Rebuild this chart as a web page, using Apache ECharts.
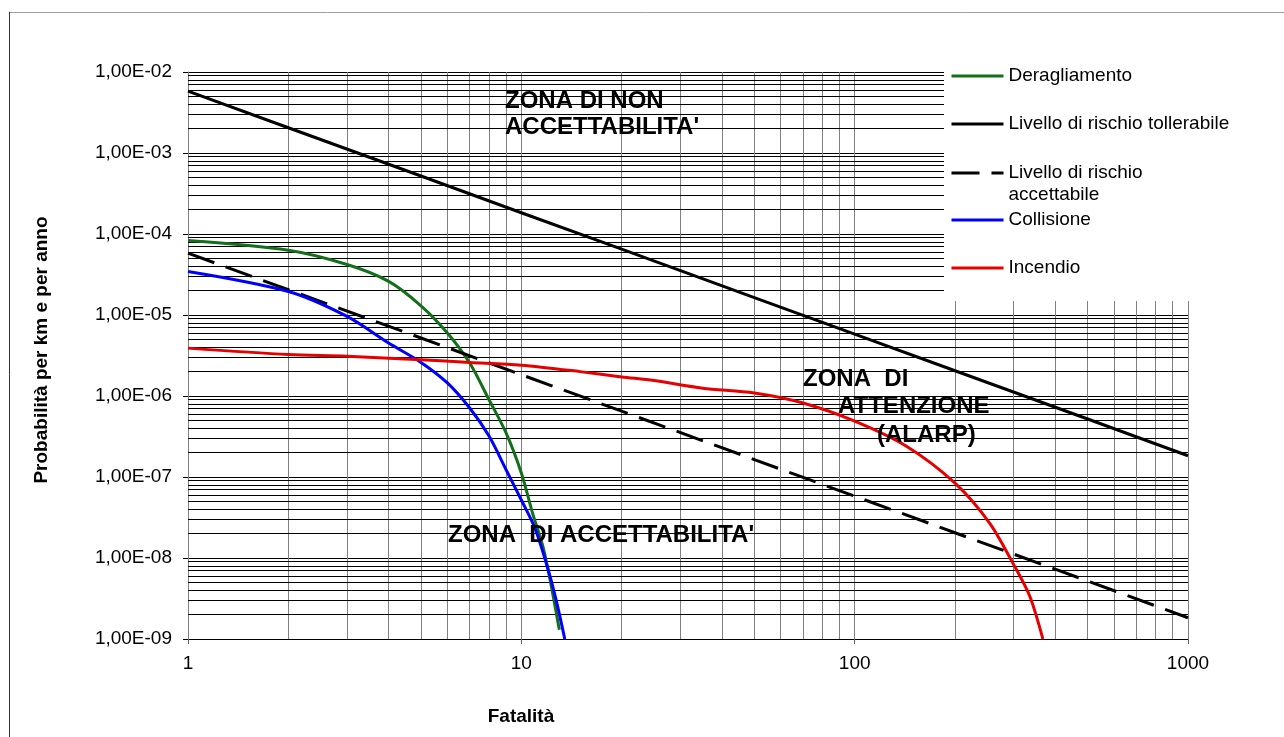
<!DOCTYPE html>
<html>
<head>
<meta charset="utf-8">
<title>Curve F-N</title>
<script src="https://cdn.jsdelivr.net/npm/echarts@6/dist/echarts.min.js"></script>
<style>
  html, body { margin: 0; padding: 0; background: #ffffff; }
  #chart { width: 1284px; height: 737px; }
</style>
</head>
<body>
<div id="chart"></div>
<script>
const FONT = '"Liberation Sans", Arial, Helvetica, sans-serif';

// Deragliamento
const derN = [1, 2, 3, 4, 5, 6, 7, 8, 9, 10, 10.8, 11.6, 12.3, 13];
const derF = [8.3e-5, 6.3e-5, 4.2e-5, 2.6e-5, 1.3e-5, 6.0e-6, 2.55e-6, 9.0e-7, 3.5e-7, 1.12e-7, 3.6e-8, 1.4e-8, 4.5e-9, 1.3e-9];

// Livello di rischio tollerabile / accettabile
const limN = [1, 2, 5, 10, 20, 50, 100, 200, 500, 1000];
const tolF = [5.8e-3, 2.05e-3, 5.2e-4, 1.83e-4, 6.5e-5, 1.64e-5, 5.8e-6, 2.05e-6, 5.2e-7, 1.83e-7];
const accF = [5.8e-5, 2.05e-5, 5.2e-6, 1.83e-6, 6.5e-7, 1.64e-7, 5.8e-8, 2.05e-8, 5.2e-9, 1.83e-9];

// Collisione
const colN = [1, 2, 3, 4, 5, 6, 7, 8, 9, 10, 11, 12, 12.7, 13.5];
const colF = [3.45e-5, 1.95e-5, 9.6e-6, 4.5e-6, 2.6e-6, 1.45e-6, 7.1e-7, 3.2e-7, 1.23e-7, 5.2e-8, 2.3e-8, 7.5e-9, 3.1e-9, 1.0e-9];

// Incendio
const incN = [1, 2, 3, 5, 7, 10, 15, 20, 25, 35, 50, 70, 100, 143, 200, 254, 298, 335, 367];
const incF = [3.9e-6, 3.25e-6, 3.1e-6, 2.8e-6, 2.6e-6, 2.4e-6, 2.0e-6, 1.72e-6, 1.55e-6, 1.25e-6, 1.09e-6, 8.2e-7, 4.9e-7, 2.4e-7, 8.4e-8, 2.7e-8, 8.7e-9, 3.4e-9, 1.0e-9];

const seriesNames = ['Deragliamento', 'Livello di rischio tollerabile', 'Livello di rischio accettabile', 'Collisione', 'Incendio'];
const seriesColors = ['#12701a', '#000000', '#000000', '#0000ff', '#e60000'];

// Axis extents and gridline multipliers
const xMin = 1, xMax = 1000;
const yMin = 1e-9, yMax = 1e-2;
const gridMults = [2, 3, 4, 5, 6, 7, 8, 9];
const xDecades = [1, 10, 100];
const yDecades = [1e-9, 1e-8, 1e-7, 1e-6, 1e-5, 1e-4, 1e-3];

const pairs = (xs, ys) => xs.map((x, i) => [x, ys[i]]);

// minor gridlines as full-span segments in data coordinates
const vGrid = [];
xDecades.forEach(d => gridMults.forEach(m => {
  const v = m * d;
  vGrid.push([{ coord: [v, yMin] }, { coord: [v, yMax] }]);
}));
const hGrid = [];
yDecades.forEach(d => gridMults.forEach(m => {
  const v = Number((m * d).toPrecision(3));
  hGrid.push([{ coord: [xMin, v] }, { coord: [xMax, v] }]);
}));

function yLabel(v) {
  const e = Math.round(Math.log10(v));
  const a = Math.abs(e);
  return '1,00E' + (e < 0 ? '-' : '+') + (a < 10 ? '0' + a : String(a));
}

function gridSeries(name, color, lines) {
  return {
    type: 'line',
    name: name,
    data: [],
    silent: true,
    z: 1,
    markLine: {
      silent: true,
      z: 1,
      symbol: ['none', 'none'],
      label: { show: false },
      lineStyle: { color: color, width: 1, type: 'solid' },
      emphasis: { disabled: true },
      animation: false,
      data: lines
    }
  };
}

function lineSeries(idx, data, dashed, smooth) {
  return {
    type: 'line',
    name: seriesNames[idx],
    data: data,
    showSymbol: false,
    symbol: 'none',
    smooth: smooth ? 0.3 : false,
    clip: true,
    z: 3,
    color: seriesColors[idx],
    lineStyle: { color: seriesColors[idx], width: 3, type: dashed ? [28, 12] : 'solid', cap: 'butt', join: 'round' },
    emphasis: { disabled: true },
    animation: false
  };
}

function legendAt(name, top, extra) {
  return Object.assign({
    data: [name],
    left: 950,
    top: top,
    padding: 0,
    orient: 'vertical',
    itemWidth: 52,
    itemHeight: 22,
    itemGap: 0,
    selectedMode: false,
    z: 200,
    itemStyle: { opacity: 0 },
    lineStyle: { width: 3 },
    textStyle: { fontFamily: FONT, fontSize: 19, color: '#000000', lineHeight: 22 }
  }, extra || {});
}

const chart = echarts.init(document.getElementById('chart'), null, { renderer: 'canvas' });

chart.setOption({
  animation: false,
  backgroundColor: '#ffffff',
  textStyle: { fontFamily: FONT },
  grid: { left: 188, top: 72, width: 1000, height: 567, containLabel: false },
  xAxis: {
    type: 'log',
    logBase: 10,
    min: xMin,
    max: xMax,
    splitNumber: 3,
    axisLine: { show: true, lineStyle: { color: '#000000', width: 1 } },
    axisTick: { show: true, length: 5, inside: false, lineStyle: { color: '#606060' } },
    axisLabel: {
      show: true, margin: 15, fontSize: 19, color: '#000000', fontFamily: FONT,
      showMinLabel: true, showMaxLabel: true,
      formatter: v => String(Math.round(v))
    },
    minorTick: { show: false },
    splitLine: { show: true, lineStyle: { color: '#808080', width: 1 } }
  },
  yAxis: {
    type: 'log',
    logBase: 10,
    min: yMin,
    max: yMax,
    splitNumber: 7,
    axisLine: { show: true, lineStyle: { color: '#808080', width: 1 } },
    axisTick: { show: true, length: 5, inside: false, lineStyle: { color: '#000000' } },
    axisLabel: {
      show: true, margin: 16, fontSize: 19, color: '#000000', fontFamily: FONT,
      showMinLabel: true, showMaxLabel: true,
      formatter: yLabel
    },
    minorTick: { show: false },
    splitLine: { show: true, lineStyle: { color: '#000000', width: 1 } }
  },
  legend: [
    legendAt(seriesNames[0], 65),
    legendAt(seriesNames[1], 113),
    legendAt(seriesNames[2], 140, {
      // first (blank) line keeps the swatch level with "Livello di rischio"
      formatter: () => '\u00a0\nLivello di rischio\naccettabile'
    }),
    legendAt(seriesNames[3], 209),
    legendAt(seriesNames[4], 257)
  ],
  series: [
    gridSeries('griglia verticale', '#808080', vGrid),
    gridSeries('griglia orizzontale', '#000000', hGrid),
    lineSeries(0, pairs(derN, derF), false, true),
    lineSeries(1, pairs(limN, tolF), false, false),
    lineSeries(2, pairs(limN, accF), true, false),
    lineSeries(3, pairs(colN, colF), false, true),
    lineSeries(4, pairs(incN, incF), false, true)
  ],
  graphic: [
    // chart frame
    { type: 'line', z: 100, shape: { x1: 9, y1: 12.5, x2: 1284, y2: 12.5 }, style: { stroke: '#a0a0a0', lineWidth: 1 } },
    { type: 'line', z: 100, shape: { x1: 9.5, y1: 12, x2: 9.5, y2: 737 }, style: { stroke: '#303030', lineWidth: 1 } },
    // legend panel
    { type: 'rect', z: 100, shape: { x: 944, y: 58, width: 320, height: 243 }, style: { fill: '#ffffff' } },
    // axis titles
    { type: 'text', z: 100, x: 521, y: 717, style: { text: 'Fatalità', font: 'bold 19px ' + FONT, fill: '#000000', align: 'center', verticalAlign: 'middle' } },
    { type: 'text', z: 100, x: 42, y: 350, rotation: Math.PI / 2, style: { text: 'Probabilità per km e per anno', font: 'bold 19px ' + FONT, fill: '#000000', align: 'center', verticalAlign: 'middle' } },
    // zone annotations
    { type: 'text', z: 100, x: 505, y: 101, style: { text: 'ZONA DI NON', font: 'bold 24px ' + FONT, fill: '#000000', align: 'left', verticalAlign: 'middle' } },
    { type: 'text', z: 100, x: 505, y: 127, style: { text: "ACCETTABILITA'", font: 'bold 24px ' + FONT, fill: '#000000', align: 'left', verticalAlign: 'middle' } },
    { type: 'text', z: 100, x: 803, y: 379, style: { text: 'ZONA  DI', font: 'bold 24px ' + FONT, fill: '#000000', align: 'left', verticalAlign: 'middle' } },
    { type: 'text', z: 100, x: 838, y: 406, style: { text: 'ATTENZIONE', font: 'bold 24px ' + FONT, fill: '#000000', align: 'left', verticalAlign: 'middle' } },
    { type: 'text', z: 100, x: 877, y: 435, style: { text: '(ALARP)', font: 'bold 24px ' + FONT, fill: '#000000', align: 'left', verticalAlign: 'middle' } },
    { type: 'text', z: 100, x: 448, y: 535, style: { text: "ZONA  DI ACCETTABILITA'", font: 'bold 24px ' + FONT, fill: '#000000', align: 'left', verticalAlign: 'middle' } }
  ]
});
</script>
</body>
</html>
